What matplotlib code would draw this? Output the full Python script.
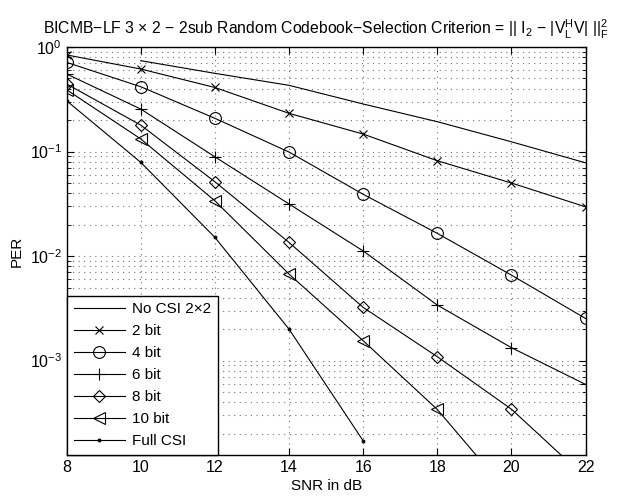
import matplotlib
matplotlib.use("Agg")
import matplotlib.pyplot as plt
from matplotlib.ticker import LogLocator, NullFormatter

plt.rcParams["font.family"] = ["Liberation Sans", "DejaVu Sans"]
plt.rcParams["mathtext.fontset"] = "custom"
plt.rcParams["mathtext.rm"] = "Liberation Sans"
plt.rcParams["mathtext.it"] = "Liberation Sans"
plt.rcParams["mathtext.default"] = "regular"

# --- data (SNR in dB vs packet error rate) -----------------------------------------------
snr = [8, 10, 12, 14, 16, 18, 20, 22]

snr_nocsi = [10, 12, 14, 16, 18, 20, 22]
per_nocsi = [0.74, 0.56, 0.43, 0.285, 0.193, 0.124, 0.078]

per_2bit = [0.84, 0.616, 0.41, 0.232, 0.147, 0.0817, 0.050, 0.0296]
per_4bit = [0.713, 0.417, 0.208, 0.0989, 0.039, 0.0165, 0.00658, 0.00253]
per_6bit = [0.552, 0.255, 0.089, 0.0315, 0.0112, 0.0034, 0.00133, 0.000592]
per_8bit = [0.443, 0.179, 0.0514, 0.0135, 0.00323, 0.00109, 0.000343, 0.000076]

snr_10bit = [8, 10, 12, 14, 16, 18, 20]
per_10bit = [0.39, 0.132, 0.0338, 0.00673, 0.00155, 0.000341, 0.00005]

snr_full = [8, 10, 12, 14, 16]
per_full = [0.306, 0.0788, 0.0151, 0.0020, 0.000171]

fig = plt.figure(figsize=(6.17, 4.97), dpi=100)
ax = fig.add_axes([0.108, 0.0845, 0.841, 0.8209])

lw = 0.8
kw = dict(color="k", ls="-", lw=lw, mew=0.8)
ax.semilogy(snr_nocsi, per_nocsi, color="k", ls="-", lw=lw, label="No CSI 2\u00d72")
ax.semilogy(snr, per_2bit, marker="x", ms=6, label="2 bit", **kw)
ax.semilogy(snr, per_4bit, marker="o", ms=8.5, mfc="none", label="4 bit", **kw)
ax.semilogy(snr, per_6bit, marker="+", ms=9, label="6 bit", **kw)
ax.semilogy(snr, per_8bit, marker="D", ms=6.5, mfc="none", label="8 bit", **kw)
ax.semilogy(snr_10bit, per_10bit, marker="<", ms=8.5, mfc="none", label="10 bit", **kw)
ax.semilogy(snr_full, per_full, marker=".", ms=4, label="Full CSI", **kw)

ax.set_xlim(8, 22)
ax.set_ylim(1.25e-4, 1)
ax.set_xticks(range(8, 23, 2))
ax.yaxis.set_major_locator(LogLocator(base=10, numticks=10))
ax.yaxis.set_minor_locator(LogLocator(base=10, subs=range(2, 10), numticks=20))
ax.yaxis.set_minor_formatter(NullFormatter())

ax.tick_params(which="both", direction="in", top=True, right=True, labelsize=11.5)
ax.tick_params(which="major", length=5, width=0.8)
ax.tick_params(which="minor", length=3, width=0.6)
ax.grid(True, which="major", axis="both", ls=(0, (1, 4)), color="0.45", lw=0.8)
ax.grid(True, which="minor", axis="y", ls=(0, (1, 4)), color="0.45", lw=0.8)
for s in ax.spines.values():
    s.set_linewidth(1.0)

ax.set_xlabel("SNR in dB", fontsize=11, labelpad=3)
ax.set_ylabel("PER", fontsize=11, labelpad=4)
ax.set_title("BICMB\u2212LF 3 \u00d7 2 \u2212 2sub Random Codebook\u2212Selection Criterion = "
             r"|| I$_2$ $-$ |V$_L^H$V| ||$_F^2$", fontsize=11.3, pad=9)

leg = ax.legend(loc="lower left", fontsize=11, handlelength=3.4, borderaxespad=0,
                labelspacing=0.52, handletextpad=0.4, borderpad=0.45, fancybox=False,
                framealpha=1, edgecolor="k")
leg.get_frame().set_linewidth(1.0)

fig.savefig("out.png", dpi=100)
